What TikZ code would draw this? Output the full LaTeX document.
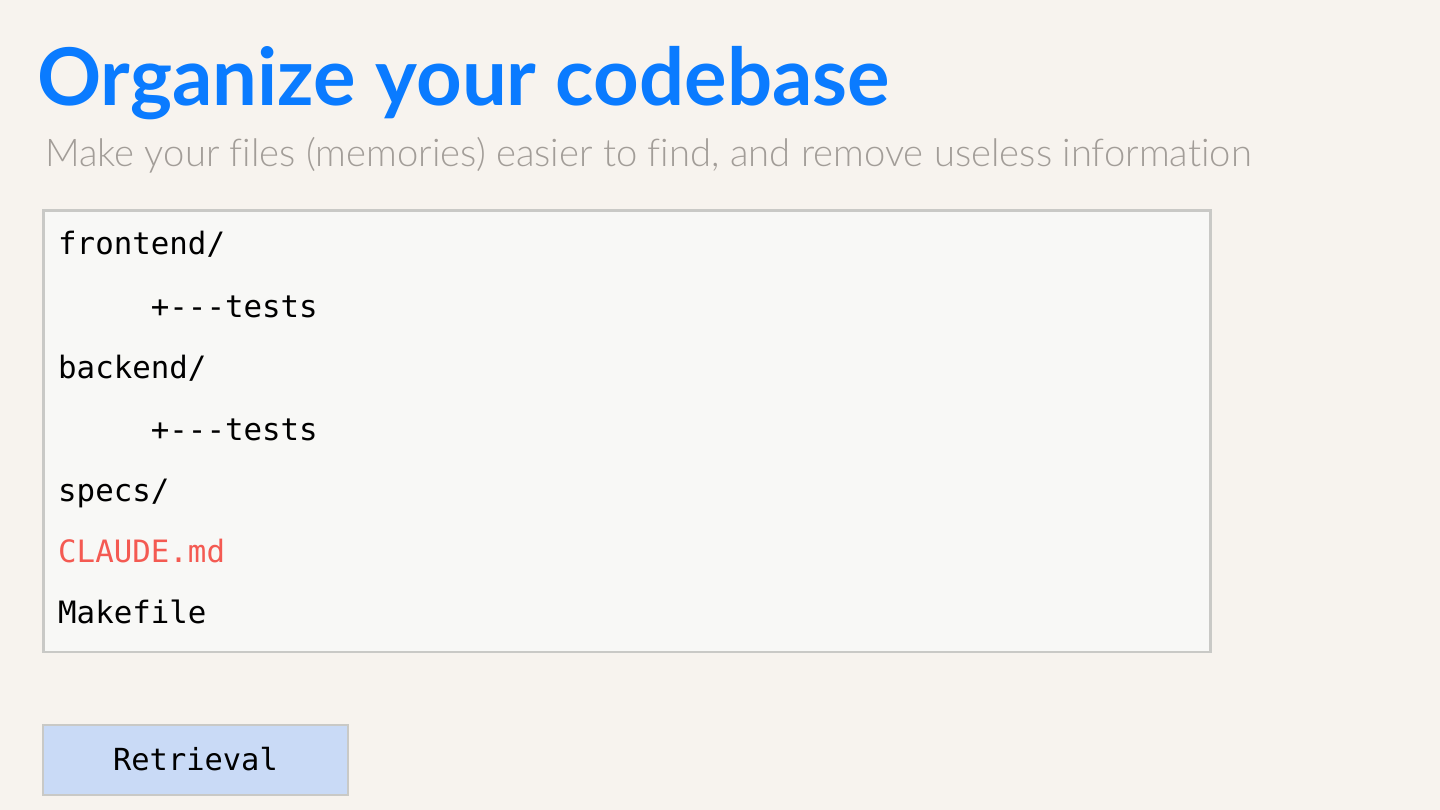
\documentclass[tikz,border=0pt]{standalone}
\usepackage{fontspec}
\setmainfont{Lato}
\setmonofont{DejaVu Sans Mono}
\newfontfamily\lightfont[Ligatures=NoCommon]{Lato Light}
\usetikzlibrary{positioning}

\definecolor{pagebg}{HTML}{F7F3EE}
\definecolor{titleblue}{HTML}{0A7BFF}
\definecolor{subgray}{HTML}{A29D98}
\definecolor{boxfill}{HTML}{F8F8F6}
\definecolor{boxline}{HTML}{C9C9C6}
\definecolor{mdred}{HTML}{F45A52}
\definecolor{btnfill}{HTML}{C9DAF6}

\tikzset{
  treeline/.style={anchor=base west, inner sep=0pt, font=\fontsize{30.8}{34}\ttfamily},
  codebox/.style={draw=boxline, fill=boxfill, line width=2.5pt, anchor=north west,
    minimum width=1167pt, minimum height=441pt, inner sep=0pt},
  btnbox/.style={draw=boxline, fill=btnfill, line width=2pt, anchor=north west,
    minimum width=305pt, minimum height=70pt, inner sep=0pt}
}

\begin{document}
\begin{tikzpicture}[x=1pt,y=-1pt]
% page and background
\useasboundingbox (0,0) rectangle (1440,810);
\fill[pagebg] (0,0) rectangle (1440,810);
% heading
\node[anchor=base west, inner sep=0pt, text=titleblue, font=\fontsize{79.6}{95}\selectfont\bfseries] (title) at (37,106) {Organize your codebase};
\node[anchor=base west, inner sep=0pt, text=subgray, font=\fontsize{38.2}{45}\lightfont] (subtitle) at (45,167) {Make your files (memories) easier to find, and remove useless information};
% the directory listing
\node[codebox] (tree) at (42,209.5) {};
\node[treeline] (front) at (58,255) {frontend/};
\node[treeline] (fronttests) at (58,317) {\ \ \ \ \ +---tests};
\node[treeline] (back) at (58,378) {backend/};
\node[treeline] (backtests) at (58,440) {\ \ \ \ \ +---tests};
\node[treeline] (specs) at (58,501) {specs/};
\node[treeline, text=mdred] (claude) at (58,562) {CLAUDE.md};
\node[treeline] (make) at (58,623) {Makefile};
% button below
\node[btnbox] (retrieval) at (42,723.5) {};
\node[font=\fontsize{30.4}{34}\ttfamily, inner sep=0pt] (retrievaltext) at (retrieval.center) {Retrieval};
\end{tikzpicture}
\end{document}
